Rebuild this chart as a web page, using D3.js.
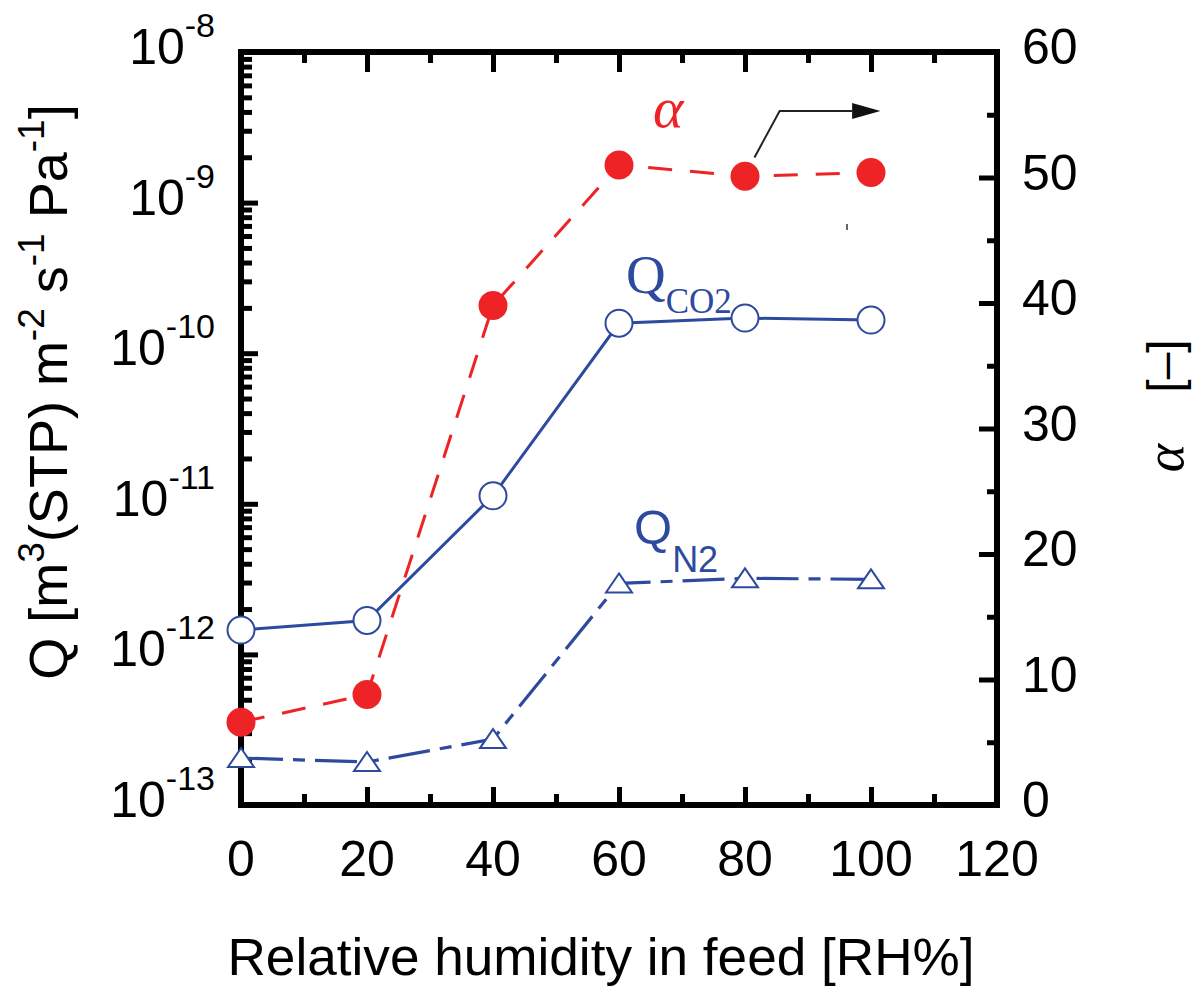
<!DOCTYPE html>
<html><head><meta charset="utf-8">
<script src="https://cdn.jsdelivr.net/npm/d3@7"></script>
<style>body{margin:0;background:#fff}svg{display:block}</style>
</head><body>
<svg id="chart" width="1197" height="989"></svg>
<script>
// ---- data ----
const rh = [0, 20, 40, 60, 80, 100];
const qCO2 = [1.45e-12, 1.68e-12, 1.13e-11, 1.58e-10, 1.71e-10, 1.66e-10];
const qN2 = [2.05e-13, 1.93e-13, 2.74e-13, 2.96e-12, 3.2e-12, 3.15e-12];
const alpha = [6.6, 8.8, 39.8, 51.0, 50.1, 50.4];
const xTicks = [0, 20, 40, 60, 80, 100, 120];
const yLogExps = [-8, -9, -10, -11, -12, -13];
const yRightTicks = [0, 10, 20, 30, 40, 50, 60];

const BLUE = "#2d4a9e", RED = "#ee2326";
const FONT = "'Liberation Sans', Arial, sans-serif";

const svg = d3.select("#chart");
const L = 241, R = 997, T = 52, B = 805;

const x = d3.scaleLinear().domain([0, 120]).range([L, R]);
const yL = d3.scaleLog().domain([1e-13, 1e-8]).range([B, T]);
const yR = d3.scaleLinear().domain([0, 60]).range([B, T]);

function styleAxis(g) {
  g.select(".domain").remove();
  g.selectAll(".tick line").attr("stroke", "#000").attr("stroke-width", 5);
  g.selectAll(".tick text").remove();
}

const decades = yLogExps.map(e => Math.pow(10, e));
const logMinor = yL.ticks().filter(v => !decades.some(d => Math.abs(v / d - 1) < 1e-6));
// left axis
svg.append("g").attr("transform", `translate(${L},0)`)
  .call(d3.axisRight(yL).tickValues(logMinor).tickSize(11).tickFormat("")).call(styleAxis);
svg.append("g").attr("transform", `translate(${L},0)`)
  .call(d3.axisRight(yL).tickValues(decades).tickSize(17).tickFormat("")).call(styleAxis);
// right axis
const rMinor = d3.range(5, 60, 10);
svg.append("g").attr("transform", `translate(${R},0)`)
  .call(d3.axisLeft(yR).tickValues(rMinor).tickSize(10).tickFormat("")).call(styleAxis);
svg.append("g").attr("transform", `translate(${R},0)`)
  .call(d3.axisLeft(yR).tickValues(yRightTicks).tickSize(18).tickFormat("")).call(styleAxis);
// bottom & top axes
const xMinor = d3.range(10, 120, 20);
svg.append("g").attr("transform", `translate(0,${B})`)
  .call(d3.axisTop(x).tickValues(xMinor).tickSize(11).tickFormat("")).call(styleAxis);
svg.append("g").attr("transform", `translate(0,${B})`)
  .call(d3.axisTop(x).tickValues(xTicks).tickSize(18).tickFormat("")).call(styleAxis);
svg.append("g").attr("transform", `translate(0,${T})`)
  .call(d3.axisBottom(x).tickValues(xMinor).tickSize(11).tickFormat("")).call(styleAxis);
svg.append("g").attr("transform", `translate(0,${T})`)
  .call(d3.axisBottom(x).tickValues(xTicks).tickSize(20).tickFormat("")).call(styleAxis);

// frame
svg.append("rect").attr("x", L).attr("y", T).attr("width", R - L).attr("height", B - T)
  .attr("fill", "none").attr("stroke", "#000").attr("stroke-width", 6);

// tick labels
svg.append("g").selectAll("text").data(xTicks).join("text")
  .attr("x", d => x(d)).attr("y", B + 71).attr("text-anchor", "middle")
  .attr("font-family", FONT).attr("font-size", 50).text(d => d);
svg.append("g").selectAll("text").data(yRightTicks).join("text")
  .attr("x", 1022).attr("y", d => yR(d) + 12)
  .attr("font-family", FONT).attr("font-size", 50).text(d => d);
const lt = svg.append("g").selectAll("text").data(yLogExps).join("text")
  .attr("x", 215).attr("y", d => yL(Math.pow(10, d)) + 12).attr("text-anchor", "end")
  .attr("font-family", FONT);
lt.append("tspan").attr("font-size", 50).text("10");
lt.append("tspan").attr("font-size", 34).attr("dy", -27).text(d => "-" + Math.abs(d));

// axis titles
svg.append("text").attr("x", 601).attr("y", 975).attr("text-anchor", "middle")
  .attr("font-family", FONT).attr("font-size", 51)
  .attr("textLength", 747).attr("lengthAdjust", "spacingAndGlyphs")
  .text("Relative humidity in feed [RH%]");

const yt = svg.append("text").attr("transform", "translate(67,392) rotate(-90)")
  .attr("text-anchor", "middle").attr("font-family", FONT).attr("font-size", 54);
const parts = [["Q [m", 0], ["3", 1], ["(STP) m", 0], ["-2", 1], [" s", 0], ["-1", 1], [" Pa", 0], ["-1", 1], ["]", 0]];
let up = false;
parts.forEach(([t, s]) => {
  const sp = yt.append("tspan").text(t);
  if (s) { sp.attr("font-size", 37).attr("dy", -23); up = true; }
  else if (up) { sp.attr("dy", 23); up = false; }
});

svg.append("text").attr("transform", "translate(1183,458) rotate(-90)")
  .attr("text-anchor", "middle").attr("font-family", "'Liberation Serif', serif")
  .attr("font-style", "italic").attr("font-size", 54).text("α");
svg.append("text").attr("transform", "translate(1181,366) rotate(-90)")
  .attr("text-anchor", "middle").attr("font-family", FONT).attr("font-size", 48).text("[–]");

// lines
const lineQ = d3.line().x((d, i) => x(rh[i])).y(d => yL(d));
const lineA = d3.line().x((d, i) => x(rh[i])).y(d => yR(d));
svg.append("path").attr("d", lineQ(qCO2)).attr("fill", "none").attr("stroke", BLUE).attr("stroke-width", 3);
svg.append("path").attr("d", lineQ(qN2)).attr("fill", "none").attr("stroke", BLUE).attr("stroke-width", 3.2)
  .attr("stroke-dasharray", "42,10,12,10");
svg.append("path").attr("d", lineA(alpha)).attr("fill", "none").attr("stroke", RED).attr("stroke-width", 3)
  .attr("stroke-dasharray", "24,18");

// markers
svg.append("g").selectAll("circle").data(qCO2).join("circle")
  .attr("cx", (d, i) => x(rh[i])).attr("cy", d => yL(d)).attr("r", 13.5)
  .attr("fill", "#fff").attr("stroke", BLUE).attr("stroke-width", 2);
svg.append("g").selectAll("path").data(qN2).join("path")
  .attr("transform", (d, i) => `translate(${x(rh[i])},${yL(d)})`)
  .attr("d", "M0,-10 L13,9 L-13,9 Z")
  .attr("fill", "#fff").attr("stroke", BLUE).attr("stroke-width", 2);
svg.append("g").selectAll("circle").data(alpha).join("circle")
  .attr("cx", (d, i) => x(rh[i])).attr("cy", d => yR(d)).attr("r", 14.5)
  .attr("fill", RED);

// annotations
svg.append("text").attr("x", 653).attr("y", 127).attr("font-family", "'Liberation Serif', serif")
  .attr("font-style", "italic").attr("font-size", 58).attr("fill", RED).text("α");
const qc = svg.append("text").attr("x", 626).attr("y", 293).attr("font-family", "'Liberation Serif', serif").attr("fill", BLUE);
qc.append("tspan").attr("font-size", 55).text("Q");
qc.append("tspan").attr("font-size", 35).attr("dy", 20).text("CO2");
const qn = svg.append("text").attr("x", 634).attr("y", 544).attr("font-family", FONT).attr("fill", BLUE);
qn.append("tspan").attr("font-size", 49).text("Q");
qn.append("tspan").attr("font-size", 36).attr("dy", 28).text("N2");

// arrow pointing to right axis
svg.append("path")
  .attr("d", `M${x(81.5)},${yR(51.6)} L${x(85.5)},${yR(55.3)} L${x(97)},${yR(55.3)}`)
  .attr("fill", "none").attr("stroke", "#222").attr("stroke-width", 2);
svg.append("path")
  .attr("d", `M${x(97)},${yR(55.3) - 8} L${x(101.5)},${yR(55.3)} L${x(97)},${yR(55.3) + 8} Z`)
  .attr("fill", "#111");
svg.append("line").attr("x1", 847).attr("x2", 847).attr("y1", 224).attr("y2", 230)
  .attr("stroke", "#333").attr("stroke-width", 1.5);
</script>
</body></html>
